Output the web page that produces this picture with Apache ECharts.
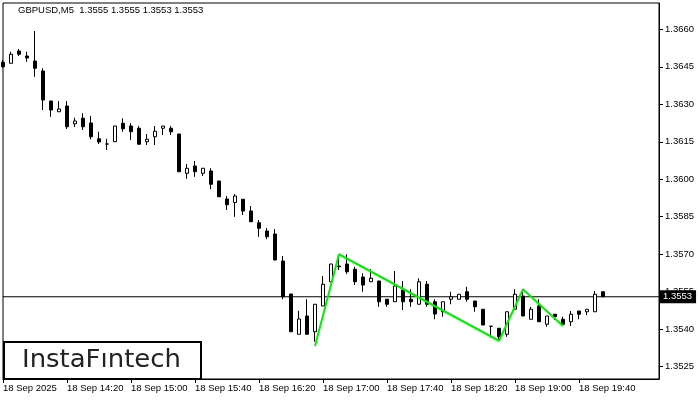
<!DOCTYPE html>
<html><head><meta charset="utf-8">
<script src="https://cdn.jsdelivr.net/npm/echarts@6/dist/echarts.min.js"></script>
<style>html,body{margin:0;padding:0;background:#fff}#c{width:700px;height:400px}</style>
</head><body><div id="c"></div>
<script>
const symbolName = 'GBPUSD,M5';
const times = ['13:40','13:45','13:50','13:55',
 '14:00','14:05','14:10','14:15','14:20','14:25','14:30','14:35','14:40','14:45','14:50','14:55',
 '15:00','15:05','15:10','15:15','15:20','15:25','15:30','15:35','15:40','15:45','15:50','15:55',
 '16:00','16:05','16:10','16:15','16:20','16:25','16:30','16:35','16:40','16:45','16:50','16:55',
 '17:00','17:05','17:10','17:15','17:20','17:25','17:30','17:35','17:40','17:45','17:50','17:55',
 '18:00','18:05','18:10','18:15','18:20','18:25','18:30','18:35','18:40','18:45','18:50','18:55',
 '19:00','19:05','19:10','19:15','19:20','19:25','19:30','19:35','19:40','19:45','19:50','19:55'];
const futureSlots = ['20:00','20:05','20:10','20:15','20:20','20:25','20:30'];
const openP = [1.36468,1.36464,1.36513,1.36493,1.36473,1.36433,1.36313,1.36270,1.36293,1.36222,
 1.36244,1.36225,1.36162,1.36141,1.36150,1.36224,1.36213,1.36204,1.36150,1.36170,
 1.36204,1.36204,1.36181,1.36024,1.36053,1.36024,1.36033,1.35993,1.35921,1.35907,
 1.35920,1.35873,1.35826,1.35793,1.35781,1.35673,1.35541,1.35380,1.35453,1.35390,
 1.35493,1.35590,1.35650,1.35661,1.35640,1.35609,1.35590,1.35593,1.35520,1.35510,
 1.35557,1.35520,1.35500,1.35580,1.35510,1.35470,1.35520,1.35520,1.35550,1.35513,
 1.35480,1.35412,1.35404,1.35380,1.35480,1.35533,1.35440,1.35493,1.35420,1.35460,
 1.35440,1.35430,1.35473,1.35470,1.35470,1.35550];
const highP = [1.36477,1.36510,1.36521,1.36510,1.36593,1.36444,1.36313,1.36313,1.36313,1.36246,
 1.36264,1.36253,1.36190,1.36162,1.36213,1.36244,1.36224,1.36213,1.36181,1.36213,
 1.36213,1.36213,1.36181,1.36061,1.36073,1.36044,1.36044,1.35993,1.35933,1.35941,
 1.35920,1.35893,1.35837,1.35805,1.35801,1.35693,1.35541,1.35474,1.35520,1.35500,
 1.35613,1.35661,1.35685,1.35700,1.35650,1.35624,1.35640,1.35593,1.35520,1.35633,
 1.35593,1.35560,1.35604,1.35593,1.35520,1.35510,1.35550,1.35540,1.35570,1.35513,
 1.35480,1.35412,1.35404,1.35470,1.35560,1.35560,1.35490,1.35520,1.35453,1.35460,
 1.35450,1.35473,1.35473,1.35480,1.35553,1.35550];
const lowP = [1.36447,1.36464,1.36493,1.36470,1.36410,1.36277,1.36250,1.36270,1.36201,1.36209,
 1.36197,1.36160,1.36141,1.36117,1.36150,1.36190,1.36157,1.36140,1.36137,1.36137,
 1.36177,1.36177,1.36030,1.36002,1.36010,1.36013,1.35960,1.35930,1.35877,1.35850,
 1.35857,1.35830,1.35770,1.35760,1.35677,1.35520,1.35390,1.35380,1.35380,1.35350,
 1.35493,1.35590,1.35637,1.35621,1.35577,1.35550,1.35590,1.35490,1.35490,1.35510,
 1.35477,1.35490,1.35500,1.35490,1.35440,1.35450,1.35500,1.35520,1.35510,1.35470,
 1.35417,1.35367,1.35357,1.35370,1.35480,1.35453,1.35440,1.35430,1.35410,1.35437,
 1.35420,1.35413,1.35440,1.35457,1.35470,1.35530];
const closeP = [1.36450,1.36500,1.36500,1.36485,1.36444,1.36317,1.36277,1.36281,1.36210,1.36233,
 1.36210,1.36170,1.36149,1.36141,1.36213,1.36202,1.36190,1.36140,1.36160,1.36192,
 1.36213,1.36190,1.36030,1.36044,1.36030,1.36044,1.35980,1.35930,1.35898,1.35933,
 1.35873,1.35830,1.35804,1.35770,1.35677,1.35530,1.35390,1.35441,1.35380,1.35500,
 1.35580,1.35661,1.35653,1.35630,1.35590,1.35577,1.35604,1.35510,1.35500,1.35573,
 1.35510,1.35510,1.35590,1.35500,1.35461,1.35510,1.35530,1.35540,1.35520,1.35490,
 1.35417,1.35412,1.35370,1.35470,1.35540,1.35453,1.35480,1.35430,1.35453,1.35450,
 1.35420,1.35460,1.35460,1.35480,1.35540,1.35530];
const yTicks = [1.3525,1.3540,1.3555,1.3570,1.3585,1.3600,1.3615,1.3630,1.3645,1.3660];
const xTickIdx = [0,8,16,24,32,40,48,56,64,72];
const xTickLabels = ['18 Sep 2025','18 Sep 14:20','18 Sep 15:00','18 Sep 15:40','18 Sep 16:20',
 '18 Sep 17:00','18 Sep 17:40','18 Sep 18:20','18 Sep 19:00','18 Sep 19:40'];
const patternIdx = [39,42,62,65,70];
const patternPrice = [1.35333,1.35700,1.35354,1.35560,1.35413];
const currentPrice = 1.3553;
const yMin = 1.35201, yMax = 1.36705;

const cats = times.concat(futureSlots);
const candles = openP.map((o,i)=>[o, closeP[i], lowP[i], highP[i]]);
const last = times.length - 1;
const titleText = symbolName + '  ' + [openP[last], highP[last], lowP[last], closeP[last]].map(v=>v.toFixed(4)).join(' ');
const FONT = 'Liberation Sans';

const chart = echarts.init(document.getElementById('c'), null, {renderer:'canvas'});
chart.setOption({
  animation: false,
  backgroundColor: '#fff',
  title: {text: titleText, left: 18, top: 5, padding: 0,
    textStyle: {fontSize: 9.5, fontWeight: 'normal', color: '#000', fontFamily: FONT}},
  grid: {left: 3, right: 41, top: 3, bottom: 21, show: true, borderColor: '#000', borderWidth: 1, backgroundColor: 'transparent'},
  xAxis: {
    type: 'category', data: cats, boundaryGap: false,
    axisLine: {lineStyle: {color: '#000', width: 1}},
    axisTick: {show: true, length: 4, lineStyle: {color: '#000'}, interval: (idx) => xTickIdx.indexOf(idx) >= 0},
    axisLabel: {interval: (idx) => xTickIdx.indexOf(idx) >= 0,
      formatter: (v, idx) => { const k = xTickIdx.indexOf(idx); return k >= 0 ? xTickLabels[k] : ''; },
      align: 'left', margin: 4, fontSize: 9.5, color: '#000', fontFamily: FONT},
    splitLine: {show: false}
  },
  yAxis: {
    type: 'value', position: 'right', min: yMin, max: yMax, scale: true,
    axisLine: {show: true, lineStyle: {color: '#000', width: 1}},
    axisTick: {show: true, length: 4, lineStyle: {color: '#000'}, customValues: yTicks},
    axisLabel: {customValues: yTicks, formatter: (v) => v.toFixed(4), margin: 6, fontSize: 9.5, color: '#000', fontFamily: FONT},
    splitLine: {show: false}
  },
  graphic: [
    {type: 'rect', shape: {x: 4, y: 342, width: 197, height: 37}, style: {fill: '#fff', stroke: '#000', lineWidth: 2}, z: 100},
    {type: 'text', x: 22, y: 360.5, scaleX: 1.08, style: {text: 'InstaFıntech', font: '500 24px "DejaVu Sans"', fill: '#222', verticalAlign: 'middle'}, z: 101}
  ],
  series: [
    {
      type: 'candlestick', data: candles, barWidth: 4,
      itemStyle: {color: '#fff', color0: '#000', borderColor: '#000', borderColor0: '#000', borderWidth: 1},
      z: 2
    },
    {
      type: 'line', data: [[cats[0], currentPrice], [cats[cats.length - 1], currentPrice]],
      symbol: 'none', lineStyle: {color: '#000', width: 1}, z: 1,
      endLabel: {show: true, formatter: currentPrice.toFixed(4), color: '#fff', backgroundColor: '#000',
        padding: [2, 4, 1, 3], fontSize: 9.5, fontFamily: FONT, distance: 1}
    },
    {
      type: 'line', data: patternIdx.map((i,k)=>[times[i], patternPrice[k]]),
      symbol: 'none', lineStyle: {color: '#00ee00', width: 2}, z: 3
    }
  ]
});
</script>
</body></html>
